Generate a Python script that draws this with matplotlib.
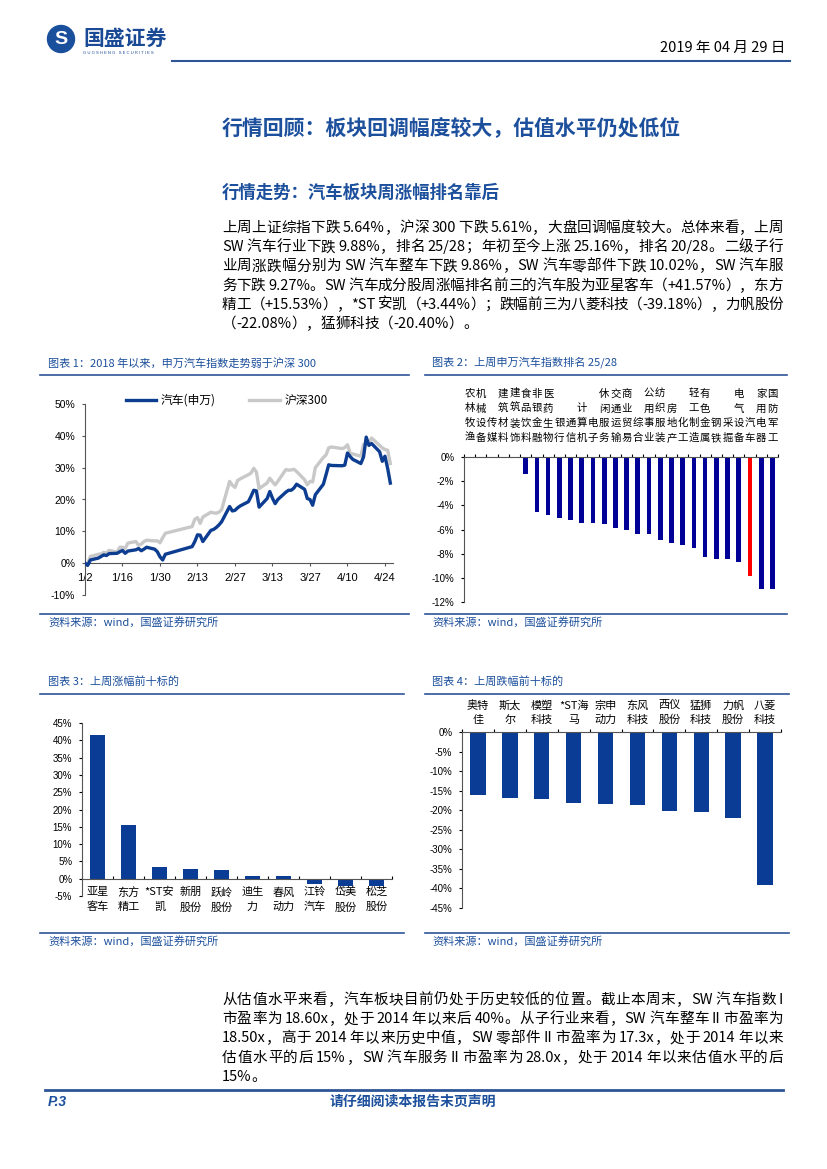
import numpy as np
import pandas as pd
import matplotlib
matplotlib.use("Agg")
import matplotlib.pyplot as plt
import matplotlib.dates as mdates
from matplotlib.lines import Line2D
from matplotlib.patches import Ellipse
from matplotlib.ticker import FuncFormatter
from matplotlib.font_manager import FontProperties, findfont, get_font

FAMILY = ['Noto Sans CJK SC', 'DejaVu Sans']
NUM_FAMILY = ['Liberation Sans', 'DejaVu Sans']
plt.rcParams['font.family'] = FAMILY
plt.rcParams['axes.unicode_minus'] = False

# chart 1: cumulative return since 2019-01-02 (%)
trade_days = ['01-02', '01-03', '01-04', '01-07', '01-08', '01-09', '01-10', '01-11',
              '01-14', '01-15', '01-16', '01-17', '01-18', '01-21', '01-22', '01-23',
              '01-24', '01-25', '01-28', '01-29', '01-30', '01-31',
              '02-01', '02-11', '02-12', '02-13', '02-14', '02-15', '02-18', '02-19',
              '02-20', '02-21', '02-22', '02-25', '02-26', '02-27', '02-28',
              '03-01', '03-04', '03-05', '03-06', '03-07', '03-08', '03-11', '03-12',
              '03-13', '03-14', '03-15', '03-18', '03-19', '03-20', '03-21', '03-22',
              '03-25', '03-26', '03-27', '03-28', '03-29',
              '04-01', '04-02', '04-03', '04-04', '04-08', '04-09', '04-10', '04-11',
              '04-12', '04-15', '04-16', '04-17', '04-18', '04-19', '04-22', '04-23',
              '04-24', '04-25', '04-26']
auto_idx = [0.0, -0.7, 1.0, 1.6, 2.1, 2.6, 2.4, 3.0, 3.1, 3.6, 4.0, 3.1, 3.8, 4.2, 4.6, 3.9,
            4.4, 5.0, 4.4, 3.6, 2.0, 1.0,
            2.8, 5.2, 6.8, 8.9, 8.8, 6.8, 10.3, 10.6, 11.2, 12.0, 13.0, 17.8, 16.4, 16.6, 17.4,
            18.0, 19.3, 21.0, 22.9, 22.7, 17.6, 20.3, 22.5, 20.4, 18.7, 20.0, 22.3, 22.9, 22.9,
            23.6, 24.8, 23.2, 20.3, 20.0, 18.2, 21.5,
            24.8, 27.8, 30.9, 30.7, 30.6, 30.8, 34.6, 33.5, 32.6, 31.3, 33.4, 39.6, 37.0, 37.6,
            35.0, 32.0, 33.6, 29.8, 25.16]
hs300_idx = [0.0, -0.2, 2.1, 2.8, 2.9, 3.4, 3.2, 4.0, 3.5, 5.0, 5.0, 4.6, 6.3, 6.8, 5.6, 6.0,
             6.8, 7.2, 7.0, 7.0, 6.4, 8.0,
             9.4, 11.5, 13.8, 14.3, 12.5, 14.5, 16.0, 15.8, 15.7, 16.0, 16.8, 25.7, 24.5, 23.8, 26.0,
             26.5, 27.8, 28.3, 29.8, 28.6, 23.4, 25.2, 26.7, 25.6, 24.6, 25.7, 29.4, 29.2, 29.3,
             29.5, 28.8, 26.2, 24.6, 25.7, 25.5, 30.0,
             33.2, 34.0, 36.2, 36.5, 36.0, 36.3, 37.2, 34.5, 34.3, 33.6, 37.3, 37.6, 37.9, 39.3,
             37.0, 36.2, 35.7, 35.5, 31.3]
date_ticks = ['01-02', '01-16', '01-30', '02-13', '02-27', '03-13', '03-27', '04-10', '04-24']

# chart 2: SW level-1 industries, weekly return (%)
industries = ['农林牧渔', '机械设备', '传媒', '建筑材料', '建筑装饰', '食品饮料', '非银金融',
              '医药生物', '银行', '通信', '计算机', '电子', '休闲服务', '交通运输', '商业贸易',
              '综合', '公用事业', '纺织服装', '房地产', '化工', '轻工制造', '有色金属', '钢铁',
              '采掘', '电气设备', '汽车', '家用电器', '国防军工']
industry_ret = [0.0, 0.0, 0.0, 0.0, 0.0, -1.43, -4.58, -4.80, -5.08, -5.19, -5.46, -5.46,
                -5.52, -5.88, -6.01, -6.34, -6.40, -6.87, -7.09, -7.26, -7.50, -8.28, -8.44,
                -8.47, -8.66, -9.88, -10.92, -10.95]

# chart 3 / 4: top 10 gainers and losers (%)
gain_names = ['亚星\n客车', '东方\n精工', '*ST安\n凯', '新朋\n股份', '跃岭\n股份', '迪生\n力',
              '春风\n动力', '江铃\n汽车', '岱美\n股份', '松芝\n股份']
gain_ret = [41.57, 15.53, 3.44, 2.9, 2.6, 0.7, 0.7, -1.6, -2.2, -2.2]
loss_names = ['奥特\n佳', '斯太\n尔', '模塑\n科技', '*ST海\n马', '宗申\n动力', '东风\n科技',
              '西仪\n股份', '猛狮\n科技', '力帆\n股份', '八菱\n科技']
loss_ret = [-16.0, -17.0, -17.2, -18.1, -18.35, -18.7, -20.2, -20.4, -22.08, -39.18]

para1 = ['上周上证综指下跌 5.64%，沪深 300 下跌 5.61%，大盘回调幅度较大。总体来看，上周',
         'SW 汽车行业下跌 9.88%，排名 25/28；年初至今上涨 25.16%，排名 20/28。二级子行',
         '业周涨跌幅分别为 SW 汽车整车下跌 9.86%，SW 汽车零部件下跌 10.02%，SW 汽车服',
         '务下跌 9.27%。SW 汽车成分股周涨幅排名前三的汽车股为亚星客车（+41.57%），东方',
         '精工（+15.53%），*ST 安凯（+3.44%）；跌幅前三为八菱科技（-39.18%），力帆股份',
         '（-22.08%），猛狮科技（-20.40%）。']
para2 = ['从估值水平来看，汽车板块目前仍处于历史较低的位置。截止本周末，SW 汽车指数 I',
         '市盈率为 18.60x，处于 2014 年以来后 40%。从子行业来看，SW 汽车整车 II 市盈率为',
         '18.50x，高于 2014 年以来历史中值，SW 零部件 II 市盈率为 17.3x，处于 2014 年以来',
         '估值水平的后 15%，SW 汽车服务 II 市盈率为 28.0x，处于 2014 年以来估值水平的后',
         '15%。']

W, H = 827, 1169
BLUE = '#1c4f9c'
LINE = '#2e5597'
AUTO_BLUE = '#0c3d91'
BAR_BLUE = '#0a3c96'
NAVY = '#000096'

fig = plt.figure(figsize=(W / 100, H / 100), dpi=100)


def fy(y):
    return 1 - y / H


def add_ax(l, t, r, b):
    return fig.add_axes([l / W, 1 - b / H, (r - l) / W, (b - t) / H])


def hline(x0, x1, y, lw=1.2, color=LINE):
    fig.add_artist(Line2D([x0 / W, x1 / W], [fy(y), fy(y)], color=color, lw=lw))


def caption(x, y, s):
    fig.text(x / W, fy(y), s, color=BLUE, fontsize=8, style='italic', va='center')


# text justification, the page text is set flush on both sides
body_font = get_font(findfont(FontProperties(family='Noto Sans CJK SC')))


def advance(s, size):
    body_font.set_size(size, 100)
    return sum(body_font.load_char(ord(c)).linearHoriAdvance for c in s) / 65536


def split_tokens(line):
    toks, buf, buf_gap, gap = [], '', False, False
    for c in line:
        if c == ' ' or ord(c) >= 128:
            if buf:
                toks.append((buf, buf_gap))
                buf = ''
            if c == ' ':
                gap = True
            else:
                toks.append((c, gap))
                gap = False
        else:
            if not buf:
                buf_gap, gap = gap, False
            buf += c
    if buf:
        toks.append((buf, buf_gap))
    return toks


def text_line(x0, x1, y, line, size, justify=True):
    toks = split_tokens(line)
    sp = advance(' ', size) * 0.8
    widths = [advance(t, size) for t, _ in toks]
    natural = sum(widths) + sp * sum(g for _, g in toks)
    extra = (x1 - x0 - natural) / (len(toks) - 1) if justify and len(toks) > 1 else 0
    x = x0
    for (t, g), w in zip(toks, widths):
        if g:
            x += sp
        fig.text(x / W, fy(y), t, fontsize=size, va='baseline', ha='left', color='black')
        x += w + extra


# ---------------- header
fig.add_artist(Ellipse((61 / W, fy(39)), 27 / W, 27 / H, transform=fig.transFigure,
                       color='#1a4f9c'))
fig.text(61 / W, fy(39), 'S', color='white', fontsize=14, fontweight='bold',
         ha='center', va='center', family=NUM_FAMILY)
fig.text(83 / W, fy(38), '国盛证券', color='#1a4a96', fontsize=15, fontweight='bold', va='center')
fig.text(83 / W, fy(53), 'G U O S H E N G   S E C U R I T I E S', color='#1a4a96', fontsize=3,
         va='center', family=NUM_FAMILY)
fig.text(785 / W, fy(48), '2019 年 04 月 29 日', fontsize=10.5, ha='right', va='center')
hline(172, 790, 61, lw=1.5)

fig.text(222 / W, fy(128), '行情回顾：板块回调幅度较大，估值水平仍处低位', color=BLUE,
         fontsize=15, fontweight='bold', va='center')
fig.text(222 / W, fy(193), '行情走势：汽车板块周涨幅排名靠后', color=BLUE,
         fontsize=12.5, fontweight='bold', va='center')

for i, line in enumerate(para1):
    text_line(222, 783, 232 + i * 19.2, line, 10.5, justify=i < len(para1) - 1)
for i, line in enumerate(para2):
    text_line(222, 783, 1004 + i * 19.2, line, 10.5, justify=i < len(para2) - 1)

# captions and rules
caption(48, 363, '图表 1：2018 年以来，申万汽车指数走势弱于沪深 300')
caption(432, 363, '图表 2：上周申万汽车指数排名 25/28')
caption(48, 682, '图表 3：上周涨幅前十标的')
caption(432, 682, '图表 4：上周跌幅前十标的')
for y in (375, 614):
    hline(40, 409, y)
    hline(425, 787, y)
for y in (694, 933):
    hline(40, 404, y)
    hline(425, 789, y)
for x, y in ((48, 622), (432, 622), (48, 941), (432, 941)):
    caption(x, y, '资料来源：wind，国盛证券研究所')

# footer
hline(45, 783, 1090, lw=2.0)
fig.text(48 / W, fy(1102), 'P.3', color=BLUE, fontsize=10, fontweight='bold',
         style='italic', va='center', family=NUM_FAMILY)
fig.text(413 / W, fy(1102), '请仔细阅读本报告末页声明', color=BLUE, fontsize=10,
         fontweight='bold', ha='center', va='center')

pct = FuncFormatter(lambda v, _: f'{v:.0f}%')


def style_num_ticks(ax, size):
    for lab in ax.get_yticklabels():
        lab.set_family(NUM_FAMILY)
        lab.set_fontsize(size)


# ---------------- chart 1: line
ax1 = add_ax(85, 404, 393, 595)
days = pd.to_datetime(['2019-' + d for d in trade_days])
ax1.plot(days, hs300_idx, color='#c8c8c8', lw=2.4, label='沪深300', zorder=2)
ax1.plot(days, auto_idx, color=AUTO_BLUE, lw=2.4, label='汽车(申万)', zorder=3)
ax1.set_ylim(-10, 50)
ax1.set_yticks(np.arange(-10, 51, 10))
ax1.yaxis.set_major_formatter(pct)
ax1.set_xlim(pd.Timestamp('2019-01-02'), pd.Timestamp('2019-04-27'))
ax1.set_xticks(pd.to_datetime(['2019-' + d for d in date_ticks]))
ax1.xaxis.set_major_formatter(FuncFormatter(
    lambda v, _: f'{mdates.num2date(v).month}/{mdates.num2date(v).day}'))
ax1.spines['bottom'].set_position(('data', 0))
for s in ('top', 'right'):
    ax1.spines[s].set_visible(False)
for s in ('left', 'bottom'):
    ax1.spines[s].set_color('#555555')
    ax1.spines[s].set_linewidth(0.8)
ax1.tick_params(axis='y', length=2, width=0.8, pad=5, color='#555555')
ax1.tick_params(axis='x', length=2, width=0.8, pad=5, labelsize=8, color='#555555')
style_num_ticks(ax1, 7.5)
for lab in ax1.get_xticklabels():
    lab.set_family(NUM_FAMILY)
h, l = ax1.get_legend_handles_labels()
ax1.legend(h[::-1], l[::-1], loc='center', bbox_to_anchor=(0.46, 1.02), ncol=2,
           frameon=False, fontsize=8.5, handlelength=2.6, columnspacing=2.8,
           handletextpad=0.4)

# ---------------- chart 2: industries
ax2 = add_ax(464, 457, 778, 602)
xi = np.arange(len(industries))
colors = ['#ff0000' if n == '汽车' else NAVY for n in industries]
ax2.bar(xi, industry_ret, width=0.42, color=colors)
ax2.set_ylim(-12, 0)
ax2.set_xlim(-0.5, len(industries) - 0.5)
ax2.set_yticks(np.arange(-12, 1, 2))
ax2.yaxis.set_major_formatter(pct)
ax2.xaxis.tick_top()
ax2.set_xticks(xi, ['\n'.join(n) for n in industries])
ax2.set_xticks(np.arange(-0.5, len(industries), 1), minor=True)
ax2.tick_params(axis='x', which='major', length=0, pad=10, labelsize=7.5)
ax2.tick_params(axis='x', which='minor', length=2.5, width=0.8, direction='out')
ax2.tick_params(axis='y', length=2, width=0.8, pad=5)
for lab in ax2.get_xticklabels():
    lab.set_linespacing(1.6)
for s in ('bottom', 'right'):
    ax2.spines[s].set_visible(False)
for s in ('left', 'top'):
    ax2.spines[s].set_color('#555555')
    ax2.spines[s].set_linewidth(0.8)
style_num_ticks(ax2, 7)

# ---------------- chart 3: gainers
ax3 = add_ax(82, 723, 392, 896)
xg = np.arange(len(gain_names))
ax3.bar(xg, gain_ret, width=0.5, color=BAR_BLUE)
ax3.set_ylim(-5, 45)
ax3.set_xlim(-0.5, len(gain_names) - 0.5)
ax3.set_yticks(np.arange(-5, 46, 5))
ax3.yaxis.set_major_formatter(pct)
ax3.set_xticks(xg, gain_names)
ax3.set_xticks(np.arange(-0.5, len(gain_names), 1), minor=True)
ax3.spines['bottom'].set_position(('data', 0))
ax3.tick_params(axis='x', which='major', length=0, pad=6, labelsize=8)
ax3.tick_params(axis='x', which='minor', length=2.5, width=0.8, direction='in')
ax3.tick_params(axis='y', length=2, width=0.8, pad=5)
for lab in ax3.get_xticklabels():
    lab.set_linespacing(1.55)
for s in ('top', 'right'):
    ax3.spines[s].set_visible(False)
for s in ('left', 'bottom'):
    ax3.spines[s].set_color('#555555')
    ax3.spines[s].set_linewidth(0.8)
style_num_ticks(ax3, 7)

# ---------------- chart 4: losers
ax4 = add_ax(462, 732, 781, 908)
xl = np.arange(len(loss_names))
ax4.bar(xl, loss_ret, width=0.48, color=BAR_BLUE)
ax4.set_ylim(-45, 0)
ax4.set_xlim(-0.5, len(loss_names) - 0.5)
ax4.set_yticks(np.arange(-45, 1, 5))
ax4.yaxis.set_major_formatter(pct)
ax4.xaxis.tick_top()
ax4.set_xticks(xl, loss_names)
ax4.set_xticks(np.arange(-0.5, len(loss_names), 1), minor=True)
ax4.tick_params(axis='x', which='major', length=0, pad=5, labelsize=8)
ax4.tick_params(axis='x', which='minor', length=2.5, width=0.8, direction='out')
ax4.tick_params(axis='y', length=2, width=0.8, pad=5)
for lab in ax4.get_xticklabels():
    lab.set_linespacing(1.5)
for s in ('bottom', 'right'):
    ax4.spines[s].set_visible(False)
for s in ('left', 'top'):
    ax4.spines[s].set_color('#555555')
    ax4.spines[s].set_linewidth(0.8)
style_num_ticks(ax4, 7)

fig.savefig('out.png', dpi=100)
